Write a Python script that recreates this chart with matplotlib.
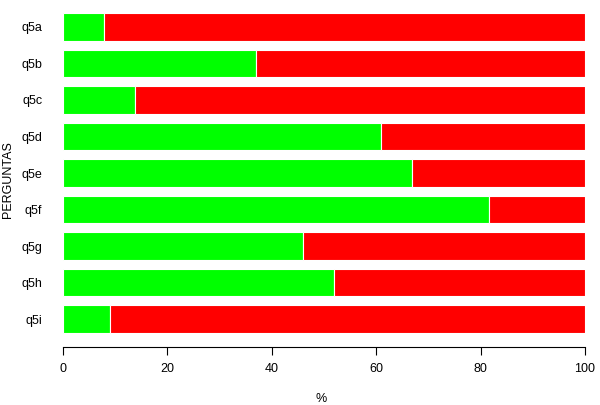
import numpy as np
import matplotlib.pyplot as plt

plt.rcParams['font.family'] = ['Liberation Sans', 'DejaVu Sans']

perguntas = ['q5a', 'q5b', 'q5c', 'q5d', 'q5e', 'q5f', 'q5g', 'q5h', 'q5i']
sim = [7.9, 37.0, 13.7, 61.0, 66.8, 81.6, 46.0, 51.9, 9.0]
nao = [100 - v for v in sim]
x_ticks = [0, 20, 40, 60, 80, 100]

fig = plt.figure(figsize=(6, 4.05), dpi=100)
ax = fig.add_axes([63 / 600, (405 - 347) / 405, 522 / 600, 347 / 405])

pos = np.arange(len(perguntas))
altura = 0.76
ax.barh(pos, sim, height=altura, color='#00ff00', edgecolor='white', linewidth=0.8)
ax.barh(pos, nao, left=sim, height=altura, color='#ff0000', edgecolor='white', linewidth=0.8)

ax.set_xlim(0, 100)
ax.set_ylim(8.763, -0.736)
ax.set_xticks(x_ticks)
ax.set_xticklabels([str(t) for t in x_ticks], fontsize=9)
ax.set_yticks(pos)
ax.set_yticklabels(perguntas, fontsize=9)
ax.tick_params(axis='y', length=0, pad=15)
ax.tick_params(axis='x', length=5.5, width=0.8, pad=6)

for s in ['top', 'right', 'left']:
    ax.spines[s].set_visible(False)
ax.spines['bottom'].set_linewidth(0.8)

fig.text(8 / 600, 1 - 180 / 405, 'PERGUNTAS', rotation=90, ha='center', va='center', fontsize=9)
fig.text(321 / 600, 1 - 399 / 405, '%', ha='center', va='center', fontsize=9)

fig.savefig('out.png', dpi=100)
